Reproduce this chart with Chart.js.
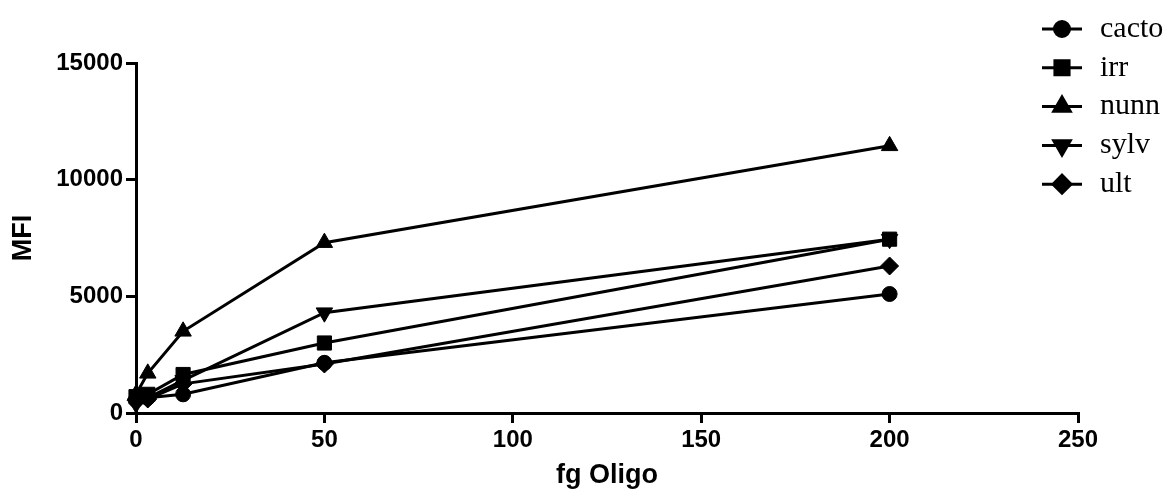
<!DOCTYPE html>
<html lang="en">
<head>
    <meta charset="UTF-8">
    <title>MFI vs fg Oligo</title>
    <script src="https://cdn.jsdelivr.net/npm/chart.js"></script>
    <style>
        body {
            margin: 0;
            background: #fff;
        }
        #chart {
            display: block;
        }
    </style>
</head>
<body>
    <canvas id="chart" width="1169" height="495"></canvas>

    <script>
        // fg Oligo amounts (x) and MFI readings per probe
        const xValues = [0, 3.125, 12.5, 50, 200];
        const cacto = [550, 650, 800, 2150, 5100];
        const irr   = [700, 800, 1650, 3000, 7450];
        const nunn  = [800, 1700, 3500, 7300, 11450];
        const sylv  = [400, 650, 1400, 4300, 7450];
        const ult   = [550, 600, 1250, 2100, 6300];

        const seriesNames = ['cacto', 'irr', 'nunn', 'sylv', 'ult'];
        const seriesValues = [cacto, irr, nunn, sylv, ult];
        const markers = [
            { style: 'circle',   radius: 7.5, rotation: 0 },
            { style: 'rect',     radius: 10,  rotation: 0 },
            { style: 'triangle', radius: 9.5, rotation: 0 },
            { style: 'triangle', radius: 9.5, rotation: 180 },
            { style: 'rectRot',  radius: 9,   rotation: 0 }
        ];

        const sansBold = { family: "'Liberation Sans', Arial, sans-serif", weight: 'bold' };

        const datasets = seriesNames.map((name, i) => ({
            label: name,
            data: xValues.map((x, j) => ({ x: x, y: seriesValues[i][j] })),
            borderColor: '#000',
            backgroundColor: '#000',
            borderWidth: 3,
            pointStyle: markers[i].style,
            pointRadius: markers[i].radius,
            pointRotation: markers[i].rotation,
            pointBorderWidth: 1,
            showLine: true,
            clip: false
        }));

        // legend on the right: line segment + marker + serif label
        const sideLegend = {
            id: 'sideLegend',
            afterDraw(chart) {
                const ctx = chart.ctx;
                ctx.save();
                chart.data.datasets.forEach((ds, i) => {
                    const y = 29 + i * 38.8;
                    ctx.strokeStyle = '#000';
                    ctx.lineWidth = 3;
                    ctx.beginPath();
                    ctx.moveTo(1042, y);
                    ctx.lineTo(1082, y);
                    ctx.stroke();
                    ctx.fillStyle = '#000';
                    Chart.helpers.drawPoint(ctx, {
                        pointStyle: ds.pointStyle,
                        radius: ds.pointRadius,
                        rotation: ds.pointRotation,
                        borderWidth: 1
                    }, 1062, y);
                    ctx.font = "30px 'Liberation Serif', 'Times New Roman', serif";
                    ctx.textBaseline = 'middle';
                    ctx.textAlign = 'left';
                    ctx.fillText(ds.label, 1100, y);
                });
                ctx.restore();
            }
        };

        new Chart(document.getElementById('chart'), {
            type: 'scatter',
            data: { datasets: datasets },
            options: {
                responsive: false,
                animation: false,
                devicePixelRatio: 1,
                layout: { padding: { top: 63, right: 91, left: 0, bottom: 0 } },
                plugins: {
                    legend: { display: false },
                    tooltip: { enabled: false }
                },
                scales: {
                    x: {
                        type: 'linear',
                        min: 0,
                        max: 250,
                        afterFit: s => { s.height = 82; },
                        ticks: {
                            stepSize: 50,
                            color: '#000',
                            padding: 3,
                            callback: v => String(v),
                            font: Object.assign({ size: 24 }, sansBold)
                        },
                        grid: {
                            drawOnChartArea: false,
                            drawTicks: true,
                            tickLength: 10,
                            color: '#000',
                            lineWidth: 3
                        },
                        border: { color: '#000', width: 3 },
                        title: {
                            display: true,
                            text: 'fg Oligo',
                            color: '#000',
                            padding: { top: 0, bottom: 3 },
                            font: Object.assign({ size: 27 }, sansBold)
                        }
                    },
                    y: {
                        type: 'linear',
                        min: 0,
                        max: 15000,
                        afterFit: s => { s.width = 136; },
                        ticks: {
                            stepSize: 5000,
                            color: '#000',
                            padding: 3,
                            callback: v => String(v),
                            font: Object.assign({ size: 24 }, sansBold)
                        },
                        grid: {
                            drawOnChartArea: false,
                            drawTicks: true,
                            tickLength: 10,
                            color: '#000',
                            lineWidth: 3
                        },
                        border: { color: '#000', width: 3 },
                        title: {
                            display: true,
                            text: 'MFI',
                            color: '#000',
                            padding: { top: 7, bottom: 0 },
                            font: Object.assign({ size: 27 }, sansBold)
                        }
                    }
                }
            },
            plugins: [sideLegend]
        });
    </script>
</body>
</html>
